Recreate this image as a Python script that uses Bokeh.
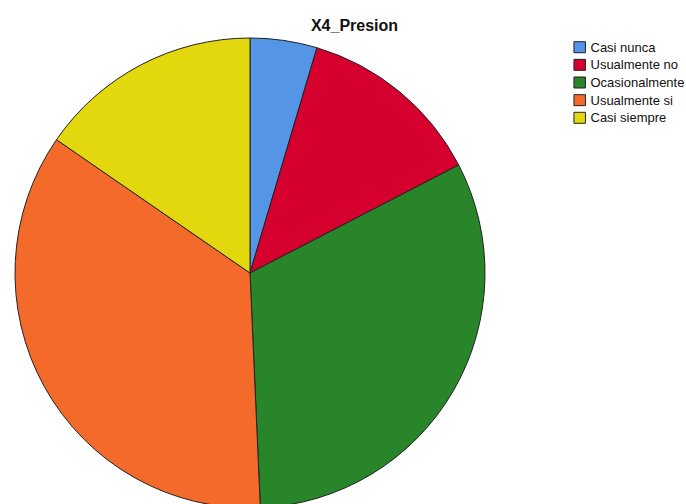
import numpy as np
from bokeh.plotting import figure
from bokeh.models import Range1d, ColumnDataSource
from bokeh.core.properties import value
from bokeh.embed import file_html
from bokeh.resources import INLINE

title_text = "X4_Presion"
categories = ["Casi nunca", "Usualmente no", "Ocasionalmente", "Usualmente si", "Casi siempre"]
percentages = [4.6, 12.8, 31.9, 35.3, 15.4]
colors = ["#5595E5", "#D6002F", "#29852A", "#F36A2A", "#E3D70E"]

W, H = 686, 504
p = figure(width=W, height=H, output_backend="svg", toolbar_location=None,
           x_range=Range1d(0, W), y_range=Range1d(-H, 0), min_border=0)
p.axis.visible = False
p.grid.visible = False
p.outline_line_color = None
p.background_fill_color = "white"
p.border_fill_color = "white"

vals = np.array(percentages, dtype=float)
frac = vals / vals.sum()
cum_end = np.cumsum(frac)
cum_start = cum_end - frac
start = np.pi / 2 - cum_end * 2 * np.pi
end = np.pi / 2 - cum_start * 2 * np.pi

src = ColumnDataSource(dict(start=start, end=end, color=colors, cat=categories))
p.wedge(x=249.5, y=-272.5, radius=235, start_angle="start", end_angle="end",
        fill_color="color", line_color="#222222", line_width=1, source=src)

# legend
n = len(categories)
ly = [-(46.7 + 17.65 * i) for i in range(n)]
lsrc = ColumnDataSource(dict(x=[579.2] * n, y=ly, color=colors, cat=categories,
                             tx=[590.0] * n))
p.rect(x="x", y="y", width=11.5, height=11, fill_color="color",
       line_color="#222222", line_width=1, source=lsrc)
p.text(x="tx", y="y", text="cat", text_font=value("Liberation Sans"),
       text_font_size="13px", text_baseline="middle", text_align="left",
       text_color="#111111", source=lsrc)

p.text(x=[354], y=[-25], text=[title_text], text_font=value("Liberation Sans"),
       text_font_size="16px", text_font_style="bold", text_align="center",
       text_baseline="middle", text_color="#111111")

open("out.html", "w").write(file_html(p, INLINE))
